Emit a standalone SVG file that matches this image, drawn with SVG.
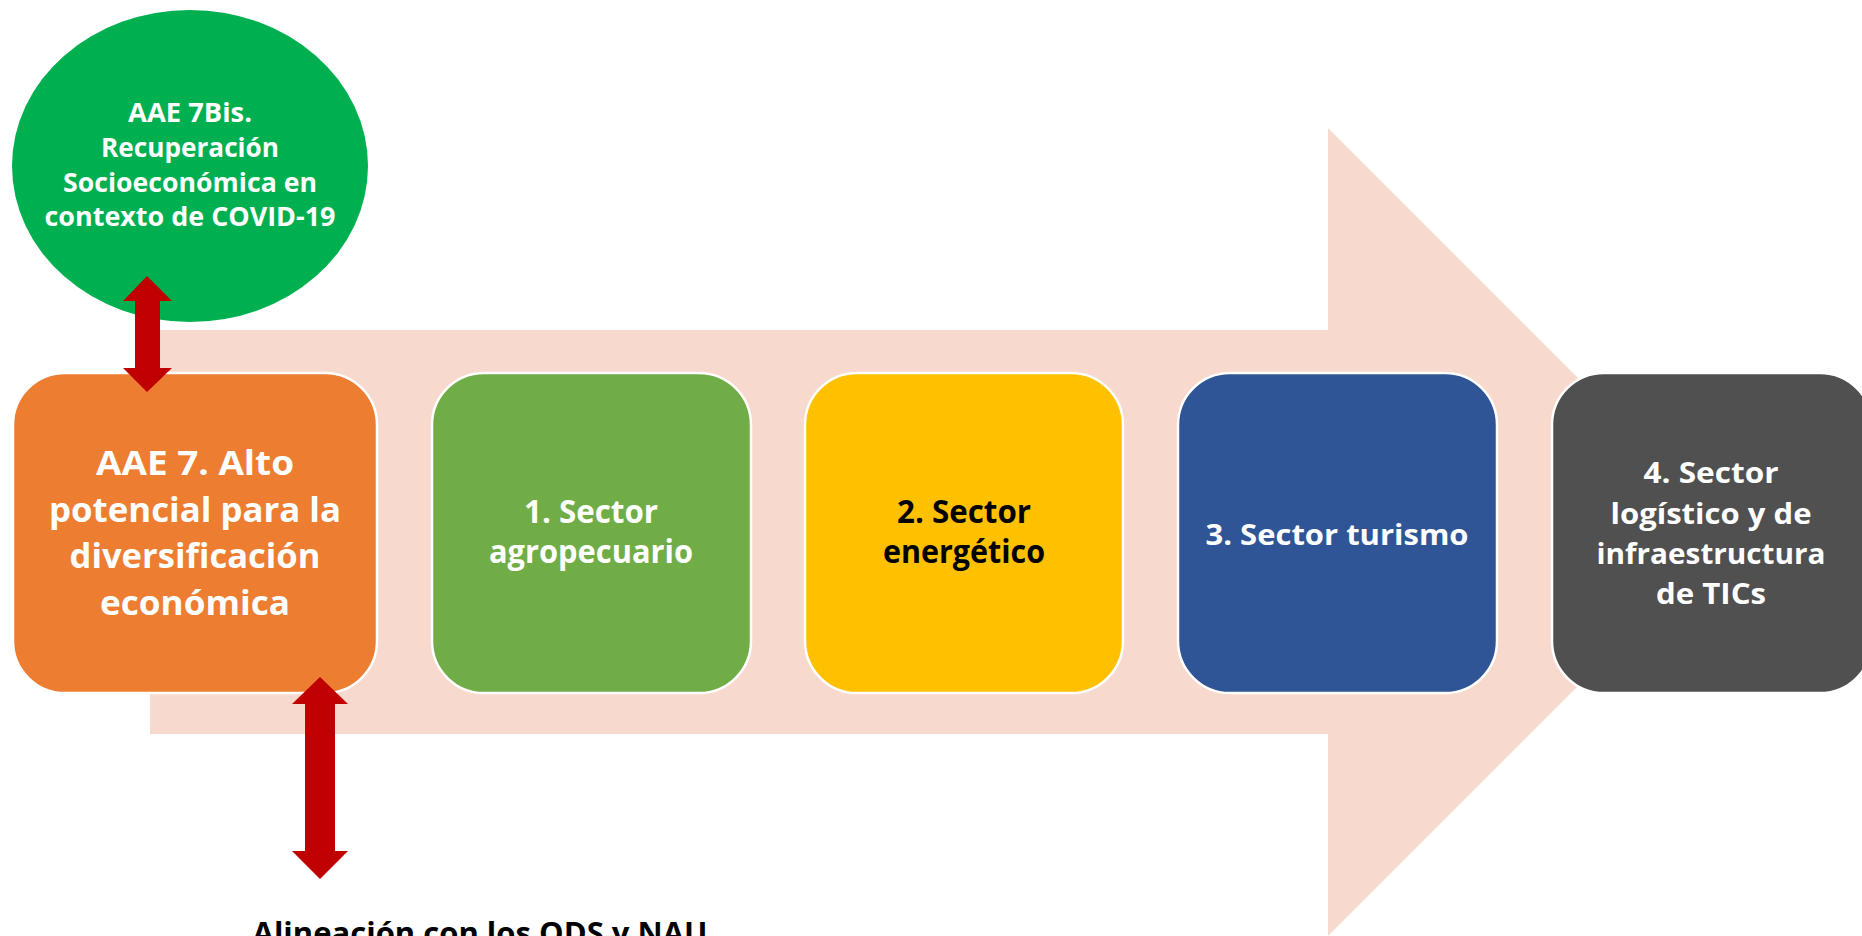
<svg xmlns="http://www.w3.org/2000/svg" width="1862" height="936" viewBox="0 0 1862 936">
<style>
.t{font-family:"Open Sans","Liberation Sans",sans-serif;font-weight:bold;text-anchor:middle}
.w{fill:#FFFFFF}
.k{fill:#000000}
.box{stroke:#FFFFFF;stroke-width:2.5}
.red{fill:#C00000}
</style>
<rect width="1862" height="936" fill="#FFFFFF"/>
<g id="flow-arrow">
<polygon points="150,330 1328,330 1328,128 1732,532 1328,936 1328,734 150,734" fill="#F8D9CE"/>
</g>
<g id="node-covid">
<ellipse cx="190" cy="166" rx="178" ry="156" fill="#00B050"/>
<text class="t w" font-size="27"><tspan x="190" y="122" textLength="124" lengthAdjust="spacingAndGlyphs">AAE 7Bis.</tspan><tspan x="190" y="157" textLength="178" lengthAdjust="spacingAndGlyphs">Recuperación</tspan><tspan x="190" y="192" textLength="254" lengthAdjust="spacingAndGlyphs">Socioeconómica en</tspan><tspan x="190" y="226" textLength="291" lengthAdjust="spacingAndGlyphs">contexto de COVID-19</tspan></text>
</g>
<g id="node-aae7">
<rect class="box" x="13" y="373" width="364" height="320" rx="52" fill="#ED7D31"/>
<text class="t w" font-size="34"><tspan x="195" y="475" textLength="198" lengthAdjust="spacingAndGlyphs">AAE 7. Alto</tspan><tspan x="195" y="522" textLength="292" lengthAdjust="spacingAndGlyphs">potencial para la</tspan><tspan x="195" y="568" textLength="251" lengthAdjust="spacingAndGlyphs">diversificación</tspan><tspan x="195" y="615" textLength="190" lengthAdjust="spacingAndGlyphs">económica</tspan></text>
</g>
<g id="node-sector1">
<rect class="box" x="432" y="373" width="319" height="320" rx="52" fill="#70AD47"/>
<text class="t w" font-size="32"><tspan x="591" y="523" textLength="134" lengthAdjust="spacingAndGlyphs">1. Sector</tspan><tspan x="591" y="563" textLength="204" lengthAdjust="spacingAndGlyphs">agropecuario</tspan></text>
</g>
<g id="node-sector2">
<rect class="box" x="805" y="373" width="318" height="320" rx="52" fill="#FFC000"/>
<text class="t k" font-size="32"><tspan x="964" y="523" textLength="134" lengthAdjust="spacingAndGlyphs">2. Sector</tspan><tspan x="964" y="563" textLength="162" lengthAdjust="spacingAndGlyphs">energético</tspan></text>
</g>
<g id="node-sector3">
<rect class="box" x="1178" y="373" width="319" height="320" rx="52" fill="#2F5597"/>
<text class="t w" font-size="29" x="1337" y="545" textLength="263" lengthAdjust="spacingAndGlyphs">3. Sector turismo</text>
</g>
<g id="node-sector4">
<rect class="box" x="1552" y="373" width="320" height="320" rx="52" fill="#505050"/>
<text class="t w" font-size="29"><tspan x="1711" y="483" textLength="135" lengthAdjust="spacingAndGlyphs">4. Sector</tspan><tspan x="1711" y="524" textLength="201" lengthAdjust="spacingAndGlyphs">logístico y de</tspan><tspan x="1711" y="564" textLength="229" lengthAdjust="spacingAndGlyphs">infraestructura</tspan><tspan x="1711" y="604" textLength="110" lengthAdjust="spacingAndGlyphs">de TICs</tspan></text>
</g>
<g id="node-ods">
<text class="t k" font-size="30" x="480" y="944" textLength="455" lengthAdjust="spacingAndGlyphs">Alineación con los ODS y NAU</text>
</g>
<g id="connectors">
<polygon class="red" points="147,276 172,301 160,301 160,368 172,368 147,392 123,368 135,368 135,301 123,301"/>
<polygon class="red" points="320,677 348,704 335,704 335,851 348,851 320,879 292,851 305,851 305,704 292,704"/>
</g>
</svg>
